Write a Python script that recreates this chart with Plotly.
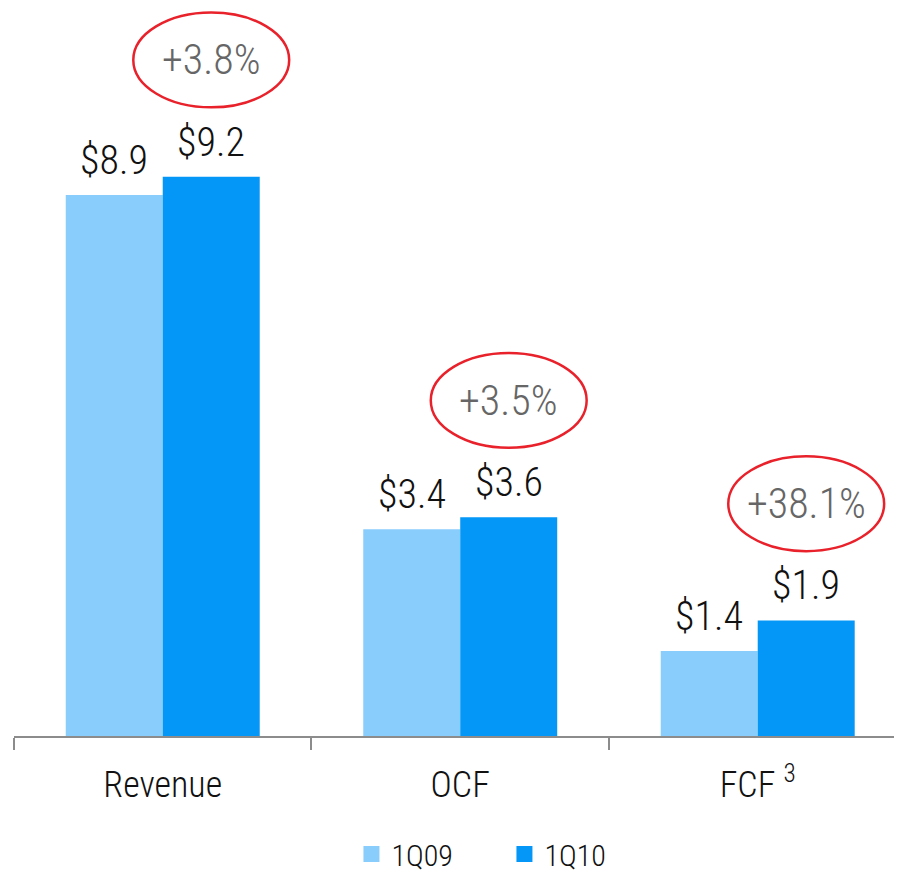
import plotly.graph_objects as go

categories = ["Revenue", "OCF", "FCF <sup>3</sup>"]
q09_values = [8.9, 3.4, 1.4]
q10_values = [9.2, 3.6, 1.9]
growth_labels = ["+3.8%", "+3.5%", "+38.1%"]
series_names = ["1Q09", "1Q10"]

LIGHT = "#89CDFD"
DARK = "#0597F7"
FONT = "Roboto Condensed, Liberation Sans Narrow, Arial Narrow, sans-serif"
W = 300

fig = go.Figure()
fig.add_trace(go.Bar(x=categories, y=q09_values, name=series_names[0],
                     marker=dict(color=LIGHT, line=dict(width=0)), showlegend=False))
fig.add_trace(go.Bar(x=categories, y=q10_values, name=series_names[1],
                     marker=dict(color=DARK, line=dict(width=0)), showlegend=False))
for nm, col in zip(series_names, [LIGHT, DARK]):
    fig.add_trace(go.Scatter(x=[None], y=[None], mode="markers", name=nm,
                             marker=dict(symbol="square", size=16, color=col)))

half = 0.163
annotations = []
shapes = []
for i, (a, b, g) in enumerate(zip(q09_values, q10_values, growth_labels)):
    for off, v in ((-half, a), (half, b)):
        annotations.append(dict(x=i + off, y=v, text=f"${v:.1f}", showarrow=False,
                                yanchor="bottom", yshift=9, xref="x", yref="y",
                                font=dict(family=FONT, size=40, color="#111", weight=W)))
    cy = b + 1.92
    annotations.append(dict(x=i + half, y=cy, text=g, showarrow=False,
                            xref="x", yref="y",
                            font=dict(family=FONT, size=42, color="#666666", weight=W)))
    shapes.append(dict(type="circle", xref="x", yref="y",
                       x0=i + half - 0.262, x1=i + half + 0.262,
                       y0=cy - 0.78, y1=cy + 0.78,
                       line=dict(color="#E8212B", width=2.5)))

fig.update_layout(
    width=894, height=872,
    margin=dict(l=6, r=0, t=0, b=132),
    paper_bgcolor="white", plot_bgcolor="white",
    barmode="group", bargap=0.348, bargroupgap=0,
    font=dict(family=FONT, color="#111", weight=W),
    annotations=annotations, shapes=shapes,
    legend=dict(orientation="h", x=0.380, xanchor="left", y=-0.162, yanchor="middle",
                font=dict(family=FONT, size=30, color="#111", weight=W),
                entrywidth=108, entrywidthmode="pixels"),
    xaxis=dict(type="category", range=[-0.5, 2.485], showline=True, linecolor="#8c8c8c",
               linewidth=2, ticks="outside", tickson="boundaries", ticklen=12,
               tickcolor="#8c8c8c", tickwidth=2, showgrid=False, ticklabelstandoff=16,
               tickfont=dict(family=FONT, size=36, color="#111", weight=W)),
    yaxis=dict(range=[0, 740 / 61.8], visible=False, showgrid=False, zeroline=False),
)

fig.write_html("out.html")
